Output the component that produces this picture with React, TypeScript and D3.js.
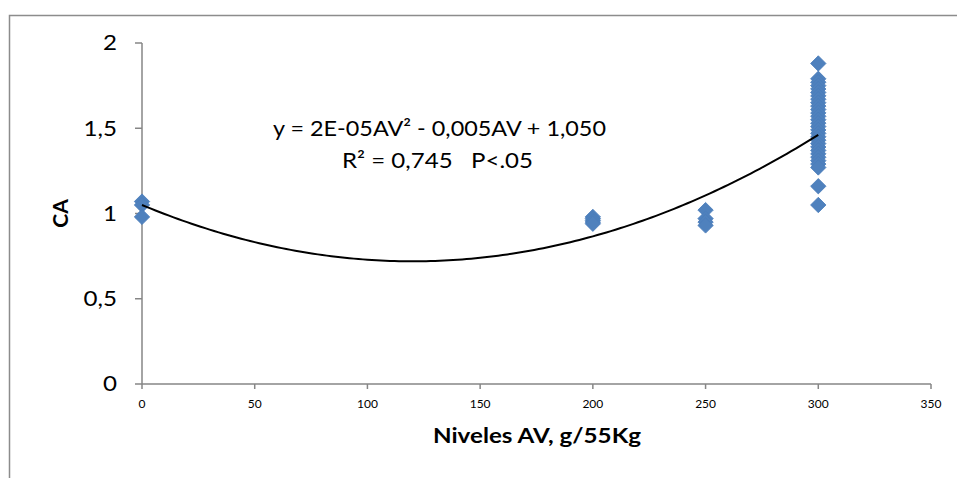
import React from "react";
import * as d3 from "d3";

const xTicks = [0, 50, 100, 150, 200, 250, 300, 350];
const yTicks = [0, 0.5, 1, 1.5, 2];
const yTickLabels = ["0", "0,5", "1", "1,5", "2"];

const pointsX0 = [1.07, 1.05, 0.98];
const pointsX200 = [0.98, 0.97, 0.96, 0.95, 0.94];
const pointsX250 = [1.02, 0.97, 0.95, 0.93];
const pointsX300 = [
  1.88, 1.79, 1.77, 1.75, 1.73, 1.71, 1.69, 1.67, 1.65, 1.63, 1.61, 1.59, 1.57,
  1.55, 1.53, 1.51, 1.49, 1.47, 1.45, 1.43, 1.41, 1.39, 1.37, 1.35, 1.33, 1.31, 1.29,
  1.27, 1.16, 1.05,
];
const levels = [0, 200, 250, 300];
const seriesByLevel = [pointsX0, pointsX200, pointsX250, pointsX300];

// trendline coefficients (quadratic)
const trendA = 2.29e-5;
const trendB = -0.0055;
const trendC = 1.05;
const trendDomain = [0, 300];

const W = 957;
const H = 478;

export default function App() {
  const x = d3.scaleLinear().domain([0, 350]).range([142, 931]);
  const y = d3.scaleLinear().domain([0, 2]).range([384, 43]);

  const points: { xv: number; yv: number }[] = [];
  levels.forEach((lv, i) => seriesByLevel[i].forEach((v) => points.push({ xv: lv, yv: v })));

  const trendPts = d3.range(trendDomain[0], trendDomain[1] + 0.5, 2).map((t) => [
    t,
    trendA * t * t + trendB * t + trendC,
  ]);
  const line = d3
    .line<number[]>()
    .x((d) => x(d[0]))
    .y((d) => y(d[1]))
    .curve(d3.curveLinear);

  const diamond = d3.symbol(d3.symbolSquare, 118)();
  const axisColor = "#868686";
  const font = "Lato, 'Open Sans', sans-serif";

  return (
    <div style={{ position: "fixed", left: 0, top: 0 }}>
      <svg width={W} height={H} style={{ display: "block", background: "#fff" }} fontFamily={font}>
        {/* outer frame */}
        <path d={`M9.5,${H + 2} V15.5 H${W + 2}`} fill="none" stroke="#8c8c8c" strokeWidth={1.5} />

        {/* y axis */}
        <line x1={x(0)} x2={x(0)} y1={y(0)} y2={y(2)} stroke={axisColor} strokeWidth={1.5} />
        {yTicks.map((t, i) => (
          <g key={"yt" + i}>
            <line x1={x(0) - 7} x2={x(0)} y1={y(t)} y2={y(t)} stroke={axisColor} strokeWidth={1.5} />
            <text
              x={117}
              y={y(t)}
              dy="0.35em"
              textAnchor="end"
              fontSize={21}
              fill="#000"
              transform={`translate(117,0) scale(1.15,1) translate(-117,0)`}
            >
              {yTickLabels[i]}
            </text>
          </g>
        ))}

        {/* x axis */}
        <line x1={x(0)} x2={x(350)} y1={y(0)} y2={y(0)} stroke={axisColor} strokeWidth={1.5} />
        {xTicks.map((t) => (
          <g key={"xt" + t}>
            <line x1={x(t)} x2={x(t)} y1={y(0)} y2={y(0) + 5} stroke={axisColor} strokeWidth={1.5} />
            <text x={x(t)} y={404} dy="0.35em" textAnchor="middle" fontSize={12} fill="#000">
              {t}
            </text>
          </g>
        ))}

        {/* axis titles */}
        <text
          transform={`translate(68,${y(1)}) rotate(-90)`}
          textAnchor="middle"
          fontSize={21}
          fontWeight="bold"
          fill="#000"
        >
          CA
        </text>
        <text
          x={433}
          y={443}
          fontSize={21}
          fontWeight="bold"
          fill="#000"
          textLength={208}
          lengthAdjust="spacingAndGlyphs"
        >
          Niveles AV, g/55Kg
        </text>

        {/* points */}
        {points.map((p, i) => (
          <path
            key={"p" + i}
            d={diamond || ""}
            transform={`translate(${x(p.xv)},${y(p.yv)}) rotate(45)`}
            fill="#4f81bd"
            stroke="#4a7dba"
            strokeWidth={0.8}
          />
        ))}

        {/* trendline */}
        <path d={line(trendPts) || ""} fill="none" stroke="#000" strokeWidth={2} />

        {/* equation */}
        <text
          x={273}
          y={136}
          fontSize={22}
          fill="#000"
          textLength={333}
          lengthAdjust="spacingAndGlyphs"
        >
          y = 2E-05AV² - 0,005AV + 1,050
        </text>
        <text
          x={342}
          y={168}
          fontSize={22}
          fill="#000"
          style={{ whiteSpace: "pre" }}
          textLength={191}
          lengthAdjust="spacingAndGlyphs"
        >
          {"R² = 0,745   P<.05"}
        </text>
      </svg>
    </div>
  );
}
